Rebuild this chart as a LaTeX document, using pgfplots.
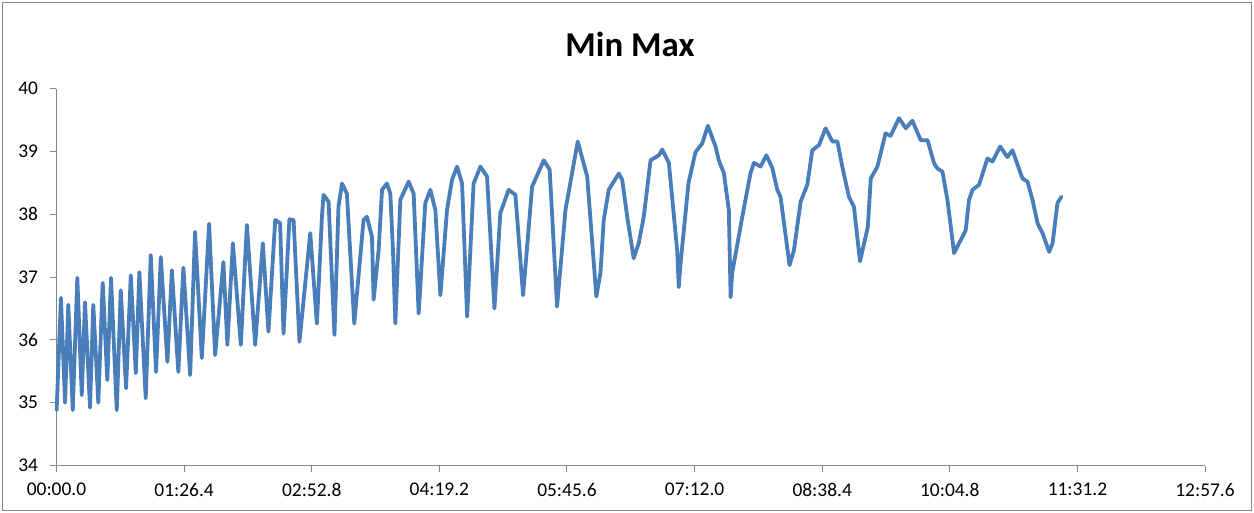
\documentclass[border=0pt]{standalone}
\usepackage{pgfplots}
\pgfplotsset{compat=1.18}
\usepackage{pgfplotstable}
\usepackage{fontspec}
\setmainfont{Carlito}
\definecolor{axisgray}{HTML}{868686}
\definecolor{lineblue}{HTML}{4A7EBB}
\pgfplotstableread{
t y
0.1 34.88
3.0 36.67
5.8 35.00
8.0 36.56
11.0 34.88
14.1 36.99
17.1 35.12
19.3 36.60
22.7 34.92
24.9 36.56
28.3 35.00
31.3 36.91
34.4 35.36
36.9 36.99
40.8 34.88
43.5 36.79
47.1 35.23
50.3 37.03
53.7 35.47
56.1 37.08
60.4 35.07
63.8 37.35
67.4 35.49
70.6 37.32
75.1 35.65
78.1 37.11
82.5 35.49
85.9 37.15
90.5 35.44
93.8 37.72
98.4 35.71
103.3 37.85
107.4 35.76
113.0 37.24
115.7 35.92
119.4 37.54
124.8 35.92
128.9 37.83
134.5 35.92
139.7 37.54
143.5 36.13
148.1 37.91
151.4 37.86
153.7 36.10
157.7 37.92
160.5 37.91
164.5 35.97
171.8 37.70
176.3 36.26
179.7 37.96
180.8 38.31
184.2 38.20
188.2 36.08
190.9 38.12
193.3 38.49
196.6 38.33
201.6 36.26
207.9 37.91
210.2 37.96
213.6 37.64
214.7 36.64
218.1 37.43
220.4 38.39
223.7 38.49
226.0 38.33
227.8 37.43
229.4 36.26
232.8 38.23
238.4 38.52
241.8 38.33
245.2 36.42
249.7 38.18
253.1 38.39
256.5 38.07
259.9 36.71
264.4 38.07
267.8 38.55
271.2 38.76
274.6 38.49
278.0 36.37
282.4 38.49
287.0 38.76
291.5 38.60
296.5 36.50
300.5 38.02
306.1 38.39
310.7 38.31
315.9 36.71
322.0 38.44
329.9 38.86
333.9 38.71
338.9 36.53
344.6 38.07
352.9 39.16
359.3 38.60
365.5 36.69
368.3 37.07
370.5 37.91
373.9 38.39
377.3 38.52
380.7 38.65
383.0 38.55
386.4 37.96
390.8 37.30
394.2 37.54
397.6 37.96
402.2 38.86
407.8 38.94
410.1 39.03
414.6 38.82
420.2 37.43
421.3 36.84
422.4 37.19
427.9 38.50
432.6 38.99
437.2 39.13
441.0 39.41
446.2 39.08
448.4 38.86
451.8 38.66
455.2 38.07
456.4 36.68
457.5 37.07
464.3 37.96
469.9 38.66
472.2 38.82
476.7 38.76
480.6 38.94
484.6 38.74
488.0 38.39
490.2 38.28
496.3 37.19
499.3 37.43
503.8 38.20
508.3 38.47
511.7 39.02
516.2 39.10
520.7 39.37
525.3 39.16
528.7 39.16
532.0 38.76
536.5 38.28
539.9 38.12
544.0 37.25
549.3 37.80
551.3 38.57
555.8 38.76
561.3 39.29
564.7 39.25
570.4 39.53
575.0 39.37
579.5 39.49
585.1 39.18
589.7 39.18
594.2 38.81
596.4 38.73
599.8 38.68
603.2 38.23
607.7 37.38
612.2 37.59
615.6 37.75
617.8 38.23
620.2 38.39
624.6 38.47
630.3 38.89
633.7 38.84
638.9 39.08
643.8 38.91
647.2 39.02
654.0 38.57
657.4 38.52
660.8 38.23
664.2 37.86
667.6 37.70
672.1 37.40
674.4 37.54
677.7 38.18
680.4 38.28
}\minmax
\begin{document}
\begin{tikzpicture}
\path[use as bounding box] (-56.5bp,-47.5bp) rectangle (1197.5bp,465.5bp);
\begin{axis}[
  at={(0,0)}, anchor=south west,
  scale only axis, width=1148.5bp, height=376.8bp,
  xmin=0, xmax=777.6, ymin=34, ymax=40,
  axis x line=bottom, axis y line=left,
  axis line style={draw=axisgray, line width=1bp, -},
  tick style={draw=axisgray, line width=1bp},
  tick align=outside, major tick length=6bp,
  xtick={0,86.4,172.8,259.2,345.6,432,518.4,604.8,691.2,777.6},
  xticklabels={00:00.0,01:26.4,02:52.8,04:19.2,05:45.6,07:12.0,08:38.4,10:04.8,11:31.2,12:57.6},
  ytick={34,35,36,37,38,39,40},
  yticklabels={34,35,36,37,38,39,40},
  ticklabel style={font=\fontsize{19.5}{23}\selectfont, text=black},
  xticklabel style={yshift=-8bp},
  yticklabel style={xshift=-9bp},
  clip=false,
]
\addplot[lineblue, line width=3.8bp, line join=round, line cap=round] table[x=t, y=y] {\minmax};
\end{axis}
\node[font=\bfseries\fontsize{35}{42}\selectfont, anchor=base] at (573.5bp,409bp) {Min Max};
\draw[draw=axisgray, line width=1bp] (-54bp,-44.5bp) rectangle (1194.5bp,463bp);
\end{tikzpicture}
\end{document}
